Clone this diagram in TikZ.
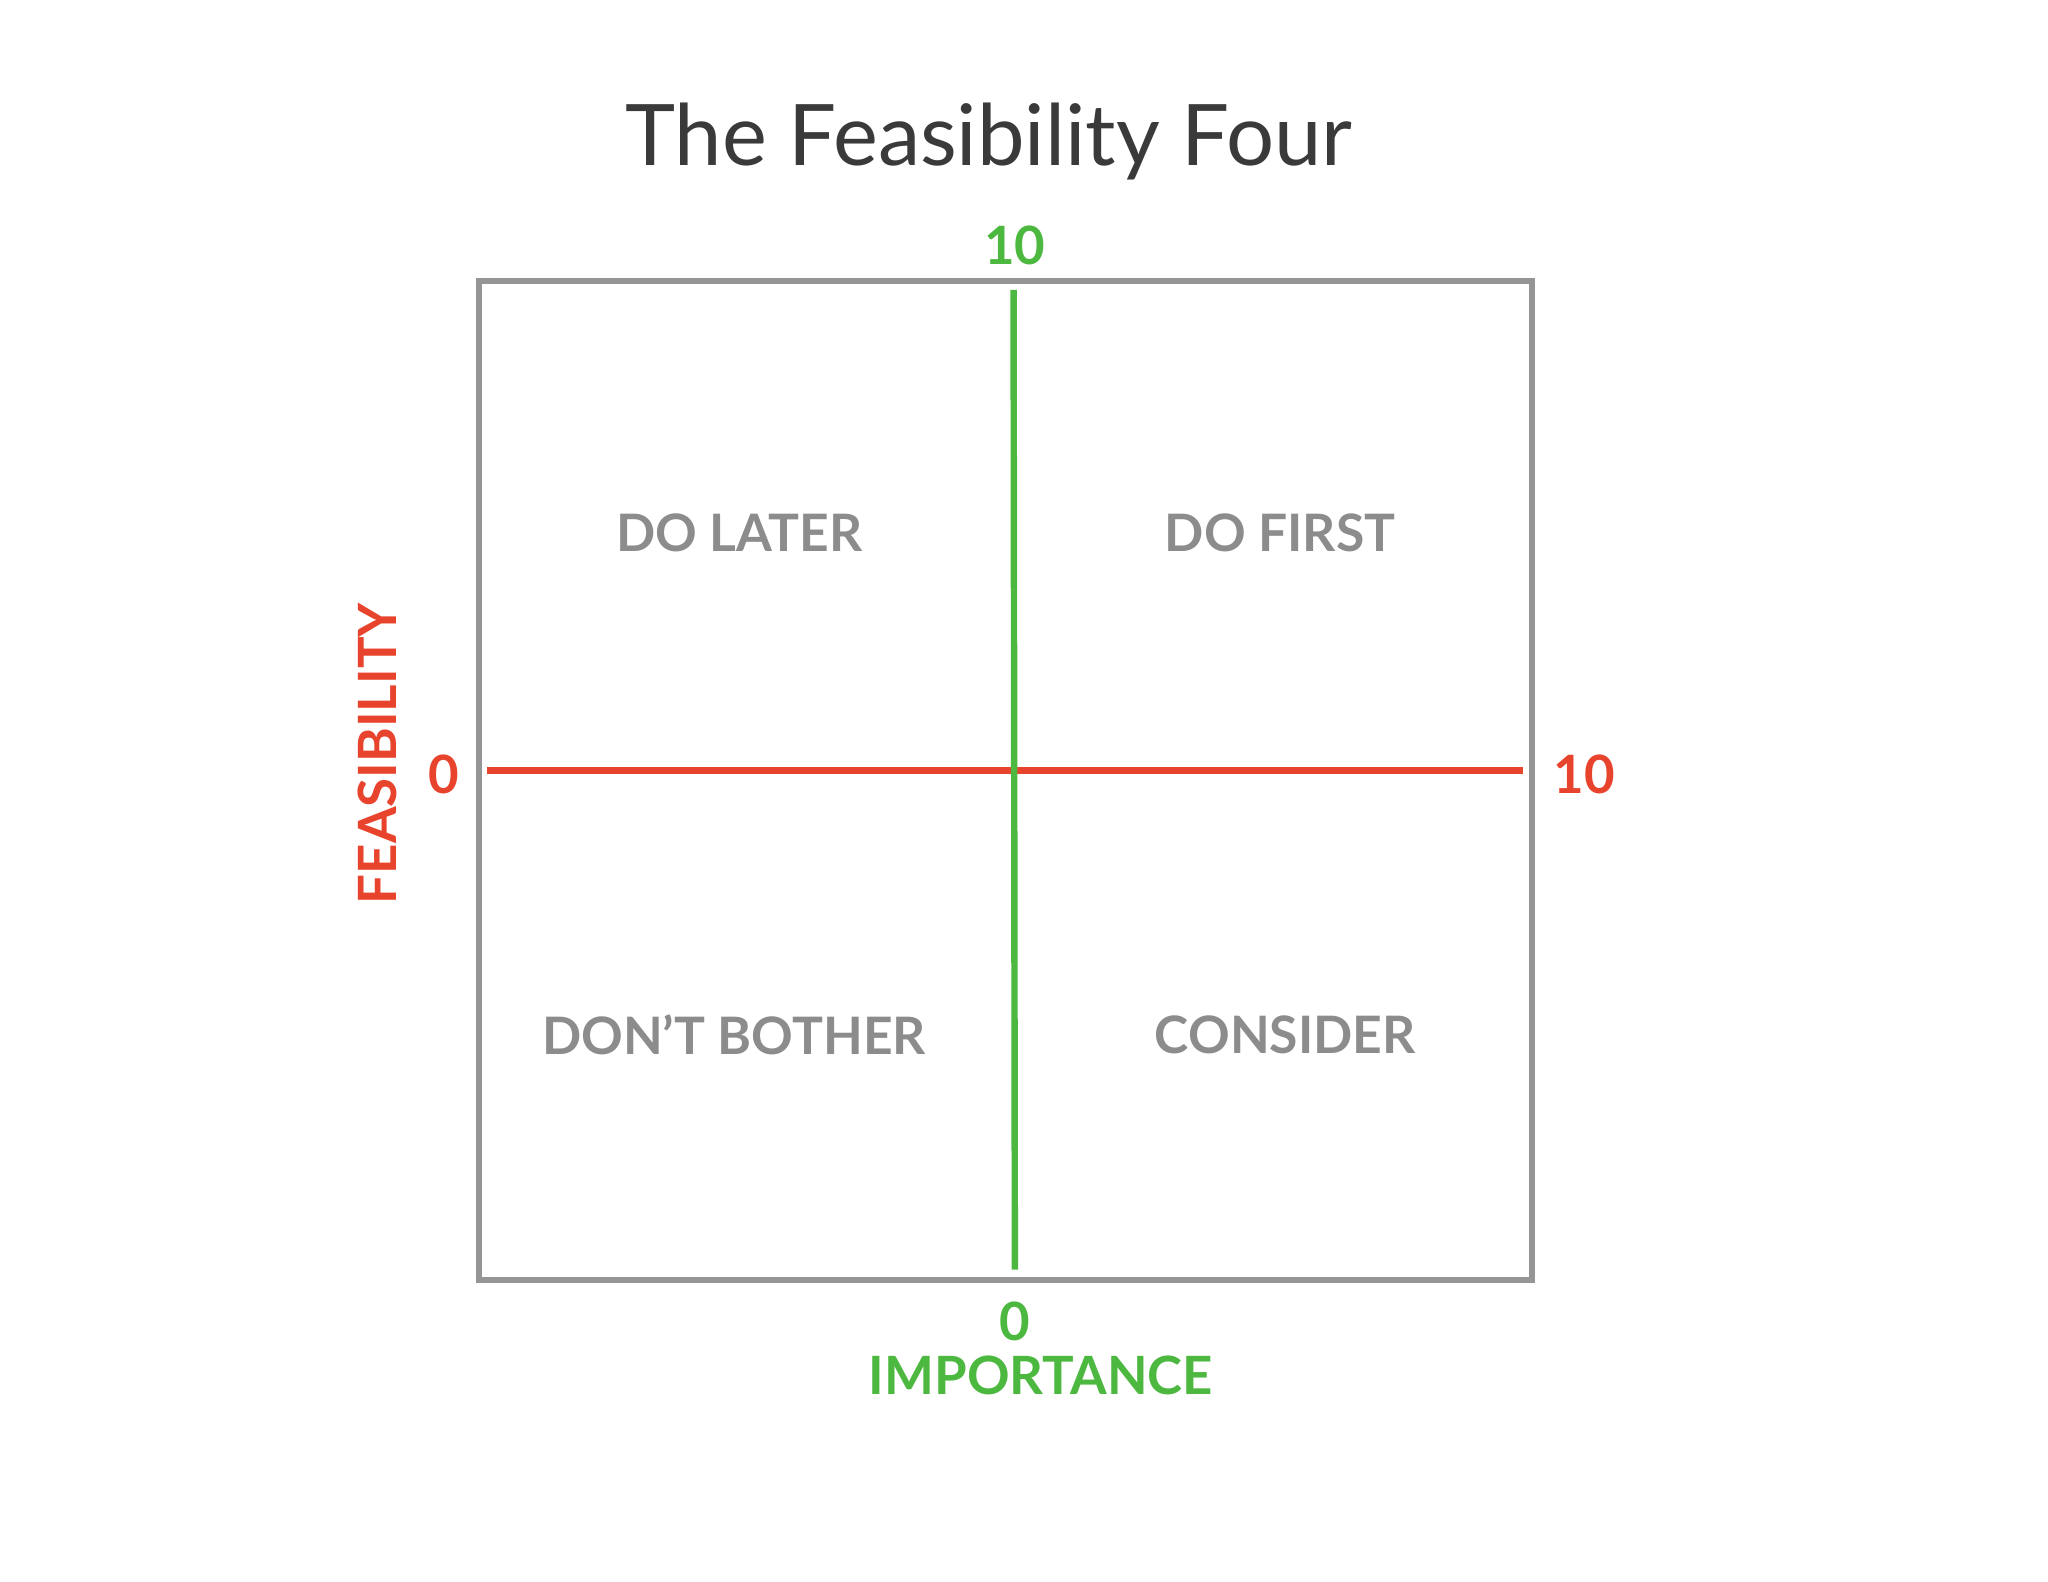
\documentclass[tikz,border=0pt]{standalone}
\usepackage{fontspec}
\setmainfont{Lato}
\definecolor{grn}{HTML}{4DB840}
\definecolor{rd}{HTML}{E8432C}
\definecolor{qg}{HTML}{8C8C8C}
\definecolor{bx}{HTML}{959595}
\definecolor{tt}{HTML}{3A3A3A}
\begin{document}
\begin{tikzpicture}[x=0.02cm,y=-0.02cm,
  quad/.style={text=qg,font=\fontsize{22.5}{26}\selectfont\bfseries},
  ax/.style={font=\fontsize{23}{27}\selectfont\bfseries}]
\useasboundingbox (0,0) rectangle (1568,1211);
\node[text=tt,font=\fontsize{37}{44}\selectfont] (title) at (757,108) {The Feasibility Four};
\draw[bx,line width=2.6pt] (367,215) rectangle (1173,980);
\coordinate (gt) at (776,222); \coordinate (gb) at (777,972);
\coordinate (rl) at (373,590); \coordinate (rr) at (1166,590);
\draw[rd,line width=2.8pt] (rl) -- (rr);
\draw[grn,line width=2.8pt] (gt) -- (gb);
\node[ax,text=grn] (g10) at (777,188) {10};
\node[ax,text=grn] (g0) at (777,1012) {0};
\node[ax,text=grn] (imp) at (797,1053) {IMPORTANCE};
\node[ax,text=rd] (r0) at (340,593) {0};
\node[ax,text=rd] (r10) at (1213,593) {10};
\node[ax,text=rd,rotate=90] (feas) at (289,577) {FEASIBILITY};
\node[quad] (dl) at (566,408) {DO LATER};
\node[quad] (df) at (980,408) {DO FIRST};
\node[quad] (db) at (562,792) {DON’T BOTHER};
\node[quad] (co) at (984,792) {CONSIDER};
\end{tikzpicture}
\end{document}
